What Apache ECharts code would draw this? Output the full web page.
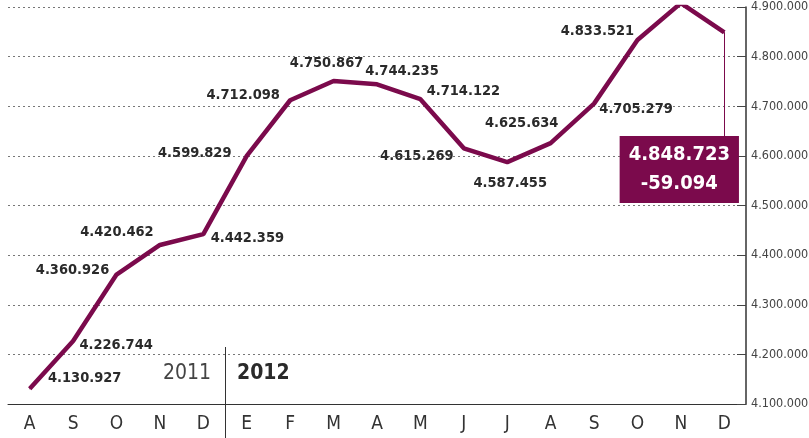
<!DOCTYPE html>
<html>
<head>
<meta charset="utf-8">
<script src="https://cdn.jsdelivr.net/npm/echarts@6/dist/echarts.min.js"></script>
<style>
html, body { margin: 0; padding: 0; background: #fff; }
#chart { width: 809px; height: 438px; }
</style>
</head>
<body>
<div id="chart"></div>
<script>
// meses ago-2011 .. dic-2012
var months = ['A', 'S', 'O', 'N', 'D', 'E', 'F', 'M', 'A', 'M', 'J', 'J', 'A', 'S', 'O', 'N', 'D'];
var values = [4130927, 4226744, 4360926, 4420462, 4442359, 4599829, 4712098, 4750867, 4744235,
	4714122, 4615269, 4587455, 4625634, 4705279, 4833521, 4907817, 4848723];
var lastChange = -59094;
var yTicks = [4100000, 4200000, 4300000, 4400000, 4500000, 4600000, 4700000, 4800000, 4900000];

// desplazamiento de cada etiqueta respecto a su punto
var labelOffsets = [[55, -10], [43, 4], [-44, -4], [-43, -13], [44, 4], [-52, -3], [-47, -5],
	[-7, -18], [25, -13], [43, -8], [-47, 8], [3, 21], [-29, -20], [42, 6], [-40, -9], null, [-45, 137]];

var MAROON = '#7b0a4c';
var FONT = '"DejaVu Sans Condensed", "Liberation Sans Narrow", sans-serif';

function fmt(n) {
	var s = String(Math.abs(n)).replace(/\B(?=(\d{3})+(?!\d))/g, '.');
	return (n < 0 ? '-' : '') + s;
}

var seriesData = [];
for (var i = 0; i < values.length; i++) {
	var item = { value: values[i] };
	if (i == values.length - 1) {
		// recuadro con el último dato y la variación
		item.label = {
			show: true,
			position: 'inside',
			formatter: fmt(values[i]) + '\n' + fmt(lastChange),
			color: '#fff',
			fontSize: 20,
			fontWeight: 'bold',
			lineHeight: 29,
			backgroundColor: MAROON,
			padding: [5, 9, 4, 9],
			align: 'center'
		};
	} else if (labelOffsets[i]) {
		item.label = { show: true, position: 'inside' };
	} else {
		item.label = { show: false };
	}
	seriesData.push(item);
}

var myChart = echarts.init(document.getElementById('chart'));

var option = {
	animation: false,
	textStyle: { fontFamily: FONT },
	grid: { left: 8, right: 63, top: 7, bottom: 34, outerBoundsMode: 'none', containLabel: false },
	xAxis: {
		type: 'category',
		data: months,
		boundaryGap: true,
		axisLine: { lineStyle: { color: '#333', width: 1 } },
		axisTick: { inside: true, length: 10, lineStyle: { color: '#333' } },
		axisLabel: { color: '#333', fontSize: 19, margin: 11, fontFamily: FONT },
		splitLine: { show: false }
	},
	yAxis: {
		type: 'value',
		position: 'right',
		min: yTicks[0],
		max: yTicks[yTicks.length - 1],
		interval: 100000,
		axisLine: { show: true, lineStyle: { color: '#333', width: 1.5 } },
		axisTick: { show: true, inside: true, length: 9, lineStyle: { color: '#444' } },
		axisLabel: {
			color: '#444', fontSize: 12.5, margin: 5, fontFamily: FONT,
			formatter: function(v) { return fmt(v); }
		},
		splitLine: { lineStyle: { color: '#777', type: [2, 3], width: 1 } }
	},
	series: [{
		type: 'line',
		data: seriesData,
		symbol: 'circle',
		symbolSize: 1,
		showSymbol: true,
		itemStyle: { color: MAROON },
		lineStyle: { color: MAROON, width: 4.5 },
		label: {
			color: '#2a2a2a',
			fontSize: 14.5,
			fontWeight: 'bold',
			fontFamily: FONT,
			formatter: function(p) { return fmt(p.value); }
		},
		labelLayout: function(params) {
			var off = labelOffsets[params.dataIndex] || [0, 0];
			return { dx: off[0], dy: off[1], hideOverlap: false };
		},
		markLine: {
			silent: true,
			symbol: 'none',
			label: { show: false },
			lineStyle: { color: MAROON, width: 1, type: 'solid' },
			data: [[
				{ coord: [values.length - 1, values[values.length - 1]] },
				{ coord: [values.length - 1, 4640000] }
			]]
		}
	}],
	graphic: [
		{ type: 'line', shape: { x1: 225.5, y1: 347, x2: 225.5, y2: 438 }, style: { stroke: '#333', lineWidth: 1 } },
		{ type: 'text', left: 163, top: 363, style: { text: '2011', fill: '#444', font: '21px ' + FONT } },
		{ type: 'text', left: 237, top: 363, style: { text: '2012', fill: '#2a2a2a', font: 'bold 21px ' + FONT } }
	]
};

myChart.setOption(option);
</script>
</body>
</html>
